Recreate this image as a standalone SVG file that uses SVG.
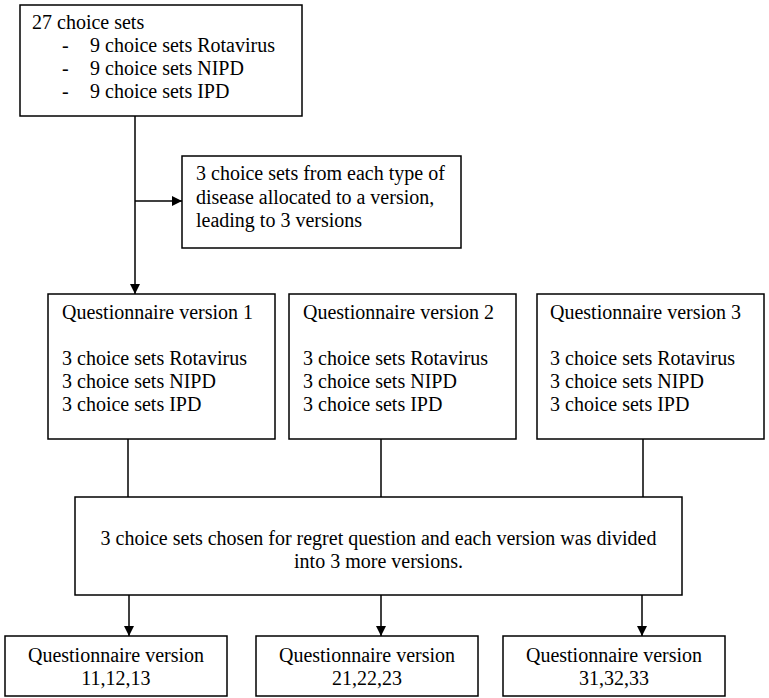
<svg xmlns="http://www.w3.org/2000/svg" width="769" height="698" viewBox="0 0 769 698">
<defs>
<marker id="arr" viewBox="0 0 10 10" refX="10" refY="5" markerWidth="10" markerHeight="10" markerUnits="userSpaceOnUse" orient="auto">
<path d="M0,0 L10,5 L0,10 z" fill="#000"/>
</marker>
<style>
.box{fill:#fff;stroke:#000;stroke-width:1.5}
.t{font-family:"Liberation Serif","Times New Roman",serif;font-size:20px;fill:#000}
.c{text-anchor:middle}
.ln{stroke:#000;stroke-width:1.5;fill:none}
</style>
</defs>
<g id="connectors">
<line class="ln" x1="135" y1="116" x2="135" y2="294" marker-end="url(#arr)"/>
<line class="ln" x1="135" y1="201" x2="182" y2="201" marker-end="url(#arr)"/>
<line class="ln" x1="128" y1="439" x2="128" y2="497"/>
<line class="ln" x1="381" y1="439" x2="381" y2="497"/>
<line class="ln" x1="643" y1="439" x2="643" y2="497"/>
<line class="ln" x1="129" y1="595" x2="129" y2="636" marker-end="url(#arr)"/>
<line class="ln" x1="381" y1="595" x2="381" y2="636" marker-end="url(#arr)"/>
<line class="ln" x1="642" y1="595" x2="642" y2="636" marker-end="url(#arr)"/>
</g>
<g id="n-start">
<rect class="box" x="20" y="5" width="282" height="111"/>
<text class="t" x="32" y="29">27 choice sets</text>
<text class="t" x="62" y="52">-</text><text class="t" x="90" y="52">9 choice sets Rotavirus</text>
<text class="t" x="62" y="75">-</text><text class="t" x="90" y="75">9 choice sets NIPD</text>
<text class="t" x="62" y="98">-</text><text class="t" x="90" y="98">9 choice sets IPD</text>
</g>
<g id="n-alloc">
<rect class="box" x="182" y="156" width="279" height="92"/>
<text class="t" x="196" y="180">3 choice sets from each type of</text>
<text class="t" x="196" y="204">disease allocated to a version,</text>
<text class="t" x="196" y="227">leading to 3 versions</text>
</g>
<g id="n-v1">
<rect class="box" x="48" y="294" width="227" height="145"/>
<text class="t" x="62" y="319">Questionnaire version 1</text>
<text class="t" x="62" y="365">3 choice sets Rotavirus</text>
<text class="t" x="62" y="388">3 choice sets NIPD</text>
<text class="t" x="62" y="411">3 choice sets IPD</text>
</g>
<g id="n-v2">
<rect class="box" x="289" y="294" width="227" height="145"/>
<text class="t" x="303" y="319">Questionnaire version 2</text>
<text class="t" x="303" y="365">3 choice sets Rotavirus</text>
<text class="t" x="303" y="388">3 choice sets NIPD</text>
<text class="t" x="303" y="411">3 choice sets IPD</text>
</g>
<g id="n-v3">
<rect class="box" x="537" y="294" width="227" height="145"/>
<text class="t" x="550" y="319">Questionnaire version 3</text>
<text class="t" x="550" y="365">3 choice sets Rotavirus</text>
<text class="t" x="550" y="388">3 choice sets NIPD</text>
<text class="t" x="550" y="411">3 choice sets IPD</text>
</g>
<g id="n-regret">
<rect class="box" x="75" y="497" width="607" height="98"/>
<text class="t c" x="378.5" y="545">3 choice sets chosen for regret question and each version was divided</text>
<text class="t c" x="378.5" y="568">into 3 more versions.</text>
</g>
<g id="n-q1">
<rect class="box" x="5" y="636" width="222" height="60"/>
<text class="t c" x="116" y="662">Questionnaire version</text>
<text class="t c" x="116" y="685">11,12,13</text>
</g>
<g id="n-q2">
<rect class="box" x="256" y="636" width="222" height="60"/>
<text class="t c" x="367" y="662">Questionnaire version</text>
<text class="t c" x="367" y="685">21,22,23</text>
</g>
<g id="n-q3">
<rect class="box" x="503" y="636" width="222" height="60"/>
<text class="t c" x="614" y="662">Questionnaire version</text>
<text class="t c" x="614" y="685">31,32,33</text>
</g>
</svg>
